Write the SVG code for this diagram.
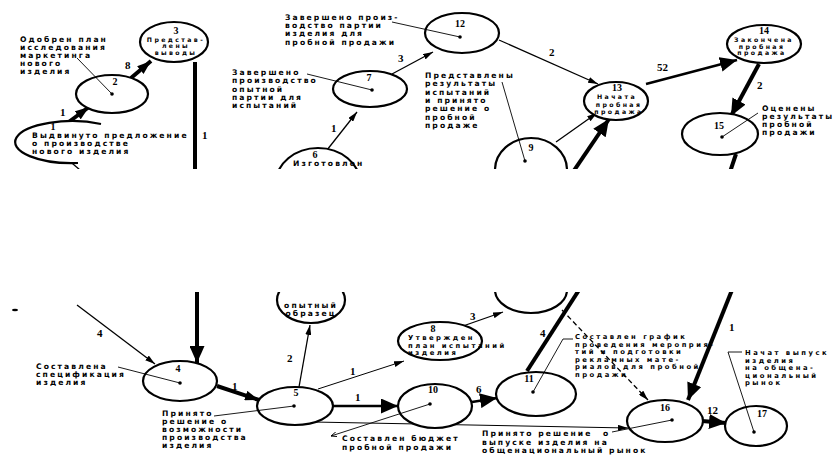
<svg xmlns="http://www.w3.org/2000/svg" width="834" height="457" viewBox="0 0 834 457">
<style>
.n ellipse,.n path.o{fill:#fff;stroke:#000;stroke-width:2.2}
.dot{fill:#000}
text{font-family:"DejaVu Sans","Liberation Sans",sans-serif;font-weight:bold;font-size:7.6px;letter-spacing:2.1px;fill:#000}
.in{font-size:6.2px;letter-spacing:2.4px;text-anchor:middle}
.sm{font-size:6.8px;letter-spacing:2.5px}
.num{font-family:"Liberation Serif",serif;font-size:11px;letter-spacing:0}
.nm{font-family:"Liberation Serif",serif;font-size:10px;letter-spacing:0;text-anchor:middle}
.e line{fill:none;stroke:#000}
.thin{stroke-width:1.3}
.med{stroke-width:2.4}
.thk{stroke-width:4}
.ld{fill:none;stroke:#000;stroke-width:0.9}
</style>
<defs>
<marker id="hs" viewBox="0 0 10 6" refX="10" refY="3" markerWidth="10" markerHeight="6" markerUnits="userSpaceOnUse" orient="auto"><path d="M0,0 L10,3 L0,6 z"/></marker>
<marker id="hm" viewBox="0 0 14 10" refX="14" refY="5" markerWidth="14" markerHeight="10" markerUnits="userSpaceOnUse" orient="auto"><path d="M0,0 L14,5 L0,10 z"/></marker>
<marker id="hb" viewBox="0 0 17 15" refX="17" refY="7.5" markerWidth="17" markerHeight="15" markerUnits="userSpaceOnUse" orient="auto"><path d="M0,0 L17,7.5 L0,15 z"/></marker>
<marker id="hl" viewBox="0 0 6 5" refX="0" refY="2.5" markerWidth="6" markerHeight="5" markerUnits="userSpaceOnUse" orient="auto"><path d="M6,0 L0,2.5 L6,5" fill="none" stroke="#000" stroke-width="0.9"/></marker>
<clipPath id="ct"><rect x="0" y="0" width="834" height="169"/></clipPath>
<clipPath id="cb"><rect x="0" y="292" width="834" height="165"/></clipPath>
</defs>
<rect width="834" height="457" fill="#fff"/>

<g id="top" clip-path="url(#ct)">
<g id="connectors-top" class="e">
<line class="thk" x1="66" y1="124" x2="89" y2="107" marker-end="url(#hm)"/>
<line class="thk" x1="131" y1="78" x2="151" y2="61" marker-end="url(#hm)"/>
<line class="thk" x1="195" y1="62" x2="195" y2="172"/>
<line class="thin" x1="66" y1="158" x2="80" y2="170"/>
<line class="thin" x1="327" y1="150" x2="357" y2="112" marker-end="url(#hs)"/>
<line class="thin" x1="392" y1="74" x2="433" y2="52" marker-end="url(#hs)"/>
<line class="thin" x1="499" y1="40" x2="598" y2="84" marker-end="url(#hs)"/>
<line class="thin" x1="556" y1="142" x2="597" y2="113" marker-end="url(#hs)"/>
<line class="thk" x1="573" y1="172" x2="609" y2="119" marker-end="url(#hb)"/>
<line class="med" x1="646" y1="84" x2="737" y2="60" marker-end="url(#hb)"/>
<line class="thk" x1="759" y1="64" x2="731" y2="116" marker-end="url(#hb)"/>
<line class="thk" x1="736" y1="154" x2="730" y2="172"/>
<text class="num" x="60" y="116">1</text>
<text class="num" x="125" y="69">8</text>
<text class="num" x="202" y="139">1</text>
<text class="num" x="331" y="132">1</text>
<text class="num" x="398" y="62">3</text>
<text class="num" x="549" y="56">2</text>
<text class="num" x="657" y="71">52</text>
<text class="num" x="757" y="89">2</text>
</g>
<g id="n1" class="n"><path class="o" d="M101,124 A57,21 0 1 0 78,163"/><text class="nm" x="53" y="130">1</text><text x="32" y="138">Выдвинуто предложение</text><text x="32" y="146">о производстве</text><text x="32" y="154">нового изделия</text></g>
<g id="n2" class="n"><ellipse cx="112" cy="94" rx="36" ry="19"/><text class="nm" x="115" y="85">2</text><circle class="dot" cx="112" cy="94" r="1.8"/></g>
<g id="n3" class="n"><ellipse cx="174" cy="42" rx="34" ry="20"/><text class="nm" x="176" y="34">3</text><text class="in" x="176" y="41.5">Представ-</text><text class="in" x="176" y="48">лены</text><text class="in" x="176" y="54.5">выводы</text></g>
<g id="n6t" class="n"><ellipse cx="318" cy="183" rx="42" ry="35"/><text class="nm" x="315" y="158">6</text><text x="293" y="166">Изготовлен</text></g>
<g id="n7" class="n"><ellipse cx="370" cy="89" rx="37" ry="18"/><text class="nm" x="369" y="81">7</text><circle class="dot" cx="372" cy="90" r="1.8"/></g>
<g id="n12" class="n"><ellipse cx="462" cy="33" rx="37" ry="20"/><text class="nm" x="460" y="27">12</text><circle class="dot" cx="460" cy="37" r="1.8"/></g>
<g id="n9t" class="n"><ellipse cx="531" cy="170" rx="36" ry="32"/><text class="nm" x="531" y="151">9</text><circle class="dot" cx="525" cy="161" r="1.8"/></g>
<g id="n13" class="n"><ellipse cx="616" cy="101" rx="32" ry="19"/><text class="nm" x="617" y="91">13</text><text class="in" x="617" y="99">Начата</text><text class="in" x="619" y="106.5">пробная</text><text class="in" x="619" y="114">продажа</text></g>
<g id="n14" class="n"><ellipse cx="764" cy="44" rx="37" ry="19"/><text class="nm" x="764" y="34">14</text><text class="in" x="764" y="42">Закончена</text><text class="in" x="762" y="48.5">пробная</text><text class="in" x="762" y="55">продажа</text></g>
<g id="n15" class="n"><ellipse cx="720" cy="134" rx="38" ry="21"/><text class="nm" x="719" y="129">15</text><circle class="dot" cx="722" cy="137" r="1.8"/></g>
<g id="notes-top">
<text x="20" y="42">Одобрен план</text><text x="20" y="50">исследования</text><text x="20" y="58">маркетинга</text><text x="20" y="66">нового</text><text x="20" y="74">изделия</text>
<line class="ld" x1="77" y1="58" x2="112" y2="94"/>
<text x="232" y="75">Завершено</text><text x="232" y="83">производство</text><text x="232" y="92">опытной</text><text x="232" y="100">партии для</text><text x="232" y="108">испытаний</text>
<line class="ld" x1="307" y1="74" x2="372" y2="90"/>
<text x="285" y="20">Завершено произ-</text><text x="285" y="28">водство партии</text><text x="285" y="36">изделия для</text><text x="285" y="45">пробной продажи</text>
<line class="ld" x1="392" y1="22" x2="460" y2="37"/>
<text x="425" y="78">Представлены</text><text x="425" y="86">результаты</text><text x="425" y="95">испытаний</text><text x="425" y="103">и принято</text><text x="425" y="111">решение о</text><text x="425" y="120">пробной</text><text x="425" y="128">продаже</text>
<line class="ld" x1="502" y1="82" x2="525" y2="161"/>
<text x="762" y="111">Оценены</text><text x="762" y="119">результаты</text><text x="762" y="127">пробной</text><text x="762" y="135">продажи</text>
<line class="ld" x1="758" y1="113" x2="722" y2="137"/>
</g>
</g>

<g id="bottom" clip-path="url(#cb)">
<g id="connectors-bottom" class="e">
<line class="thk" x1="197" y1="290" x2="197" y2="363" marker-end="url(#hb)"/>
<line class="thin" x1="77" y1="305" x2="155" y2="364" marker-end="url(#hs)"/>
<line class="thk" x1="579" y1="290" x2="527" y2="371"/>
<line class="thk" x1="732" y1="290" x2="688" y2="400" marker-end="url(#hb)"/>
<line class="thk" x1="217" y1="386" x2="259" y2="400" marker-end="url(#hm)"/>
<line class="thin" x1="299" y1="387" x2="310" y2="325" marker-end="url(#hs)"/>
<line style="stroke-width:1" x1="318" y1="389" x2="404" y2="361" marker-end="url(#hs)"/>
<line class="med" x1="333" y1="406" x2="398" y2="406" marker-end="url(#hb)"/>
<line class="thin" x1="463" y1="326" x2="503" y2="312" marker-end="url(#hs)"/>
<line class="med" x1="472" y1="402" x2="497" y2="398" marker-end="url(#hb)"/>
<line style="stroke-width:1" x1="313" y1="422" x2="628" y2="428" marker-end="url(#hs)"/>
<line class="thin" stroke-dasharray="5,3" x1="562" y1="310" x2="648" y2="400" marker-end="url(#hs)"/>
<line class="thk" x1="702" y1="421" x2="726" y2="423" marker-end="url(#hb)"/>
<text class="num" x="97" y="337">4</text>
<text class="num" x="540" y="337">4</text>
<text class="num" x="729" y="331">1</text>
<text class="num" x="232" y="390">1</text>
<text class="num" x="287" y="362">2</text>
<text class="num" x="350" y="375">1</text>
<text class="num" x="355" y="401">1</text>
<text class="num" x="470" y="320">3</text>
<text class="num" x="476" y="393">6</text>
<text class="num" x="707" y="414">12</text>
</g>
<ellipse cx="15" cy="310" rx="3" ry="1.3" fill="#000"/>
<g id="n6b" class="n"><ellipse cx="311" cy="300" rx="34" ry="23"/><text style="text-anchor:middle" x="311" y="308">опытный</text><text style="text-anchor:middle" x="311" y="316">образец</text></g>
<g id="n9b" class="n"><ellipse cx="531" cy="290" rx="36" ry="23"/></g>
<g id="n4" class="n"><ellipse cx="180" cy="381" rx="37" ry="20"/><text class="nm" x="178" y="372">4</text><circle class="dot" cx="180" cy="383" r="1.8"/></g>
<g id="n5" class="n"><ellipse cx="295" cy="406" rx="38" ry="19"/><text class="nm" x="296" y="396">5</text><circle class="dot" cx="294" cy="406" r="1.8"/></g>
<g id="n8" class="n"><ellipse cx="440" cy="341" rx="42" ry="19"/><text class="nm" x="433" y="332">8</text><text class="sm" x="408" y="340">Утвержден</text><text class="sm" x="408" y="347.5">план испытаний</text><text class="sm" x="408" y="355">изделия</text></g>
<g id="n10" class="n"><ellipse cx="435" cy="406" rx="37" ry="22"/><text class="nm" x="433" y="393">10</text><circle class="dot" cx="430" cy="404" r="1.8"/></g>
<g id="n11" class="n"><ellipse cx="536" cy="394" rx="40" ry="22"/><text class="nm" x="529" y="382">11</text><circle class="dot" cx="533" cy="392" r="1.8"/></g>
<g id="n16" class="n"><ellipse cx="665" cy="421" rx="38" ry="21"/><text class="nm" x="665" y="411">16</text><circle class="dot" cx="672" cy="420" r="1.8"/></g>
<g id="n17" class="n"><ellipse cx="756" cy="426" rx="31" ry="20"/><text class="nm" x="762" y="417">17</text><circle class="dot" cx="754" cy="432" r="1.8"/></g>
<g id="notes-bottom">
<text x="36" y="369">Составлена</text><text x="36" y="377">спецификация</text><text x="36" y="385">изделия</text>
<line class="ld" x1="118" y1="367" x2="180" y2="383"/>
<text x="162" y="416">Принято</text><text x="162" y="424">решение о</text><text x="162" y="432">возможности</text><text x="162" y="440">производства</text><text x="162" y="448">изделия</text>
<line class="ld" x1="214" y1="416" x2="294" y2="406"/>
<text x="342" y="441">Составлен бюджет</text><text x="342" y="450">пробной продажи</text>
<line class="ld" x1="331" y1="436" x2="430" y2="404" marker-start="url(#hl)"/>
<text x="482" y="436">Принято решение</text><text x="603" y="436">о</text><text x="482" y="445">выпуске изделия на</text><text x="482" y="453">общенациональный рынок</text>
<line class="ld" x1="612" y1="432" x2="672" y2="420"/>
<text class="sm" x="575" y="339">Составлен график</text><text class="sm" x="575" y="346.5">проведения мероприя-</text><text class="sm" x="575" y="354">тий и подготовки</text><text class="sm" x="575" y="361.5">рекламных мате-</text><text class="sm" x="575" y="369">риалов для пробной</text><text class="sm" x="575" y="376.5">продажи</text>
<polyline class="ld" points="573,339 563,339 533,392"/>
<text class="sm" x="745" y="355">Начат выпуск</text><text class="sm" x="745" y="362.5">изделия</text><text class="sm" x="745" y="370">на общена-</text><text class="sm" x="745" y="377.5">циональный</text><text class="sm" x="745" y="385">рынок</text>
<polyline class="ld" points="742,352 728,352 754,432"/>
</g>
</g>
</svg>
